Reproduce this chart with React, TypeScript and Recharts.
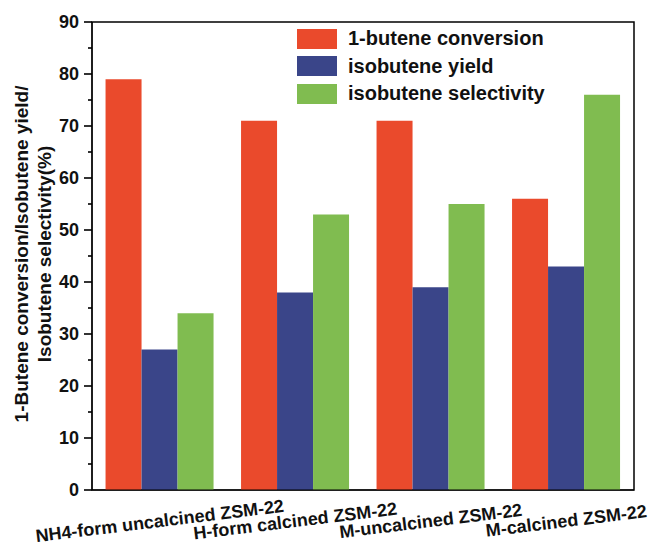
import React from 'react';
import { BarChart, Bar, XAxis, YAxis, ReferenceArea, ReferenceLine } from 'recharts';

const categories = [
  'NH4-form uncalcined ZSM-22',
  'H-form calcined ZSM-22',
  'M-uncalcined ZSM-22',
  'M-calcined ZSM-22',
];
const conversion = [79, 71, 71, 56];
const yieldValues = [27, 38, 39, 43];
const selectivity = [34, 53, 55, 76];
const yTicks = [0, 5, 10, 15, 20, 25, 30, 35, 40, 45, 50, 55, 60, 65, 70, 75, 80, 85, 90];

const seriesNames = ['1-butene conversion', 'isobutene yield', 'isobutene selectivity'];
const colors = ['#EA4A2C', '#3A4589', '#80BC50'];
const LINE = '#000';

const data = categories.map((c, i) => ({
  name: c,
  conv: conversion[i],
  yld: yieldValues[i],
  sel: selectivity[i],
}));

const FONT = '"Liberation Sans", Arial, sans-serif';
const X_TICK_SIZE = 6;
const X_TICK_MARGIN = 2;

const XTick = (props: any) => {
  const { x, y, payload } = props;
  const cy = y - X_TICK_SIZE - X_TICK_MARGIN + 31;
  return (
    <text
      x={x}
      y={cy}
      textAnchor="middle"
      dominantBaseline="central"
      transform={`rotate(-7, ${x}, ${cy})`}
      fontFamily={FONT}
      fontWeight="bold"
      fontSize={18}
      fill="#111"
    >
      {payload.value}
    </text>
  );
};

const YTitle = (props: any) => {
  const vb = props.viewBox || { x: 0, y: 22, width: 92, height: 468 };
  const cy = vb.y + vb.height / 2 - 2;
  const x1 = 21.5;
  const x2 = 44;
  return (
    <g fontFamily={FONT} fontWeight="bold" fontSize={19} fill="#111">
      <text x={x1} y={cy} textAnchor="middle" dominantBaseline="central" transform={`rotate(-90, ${x1}, ${cy})`}>
        1-Butene conversion/Isobutene yield/
      </text>
      <text x={x2} y={cy} textAnchor="middle" dominantBaseline="central" transform={`rotate(-90, ${x2}, ${cy})`}>
        Isobutene selectivity(%)
      </text>
    </g>
  );
};

const tickShape = (major: boolean) => (p: any) => {
  const x1 = Math.min(Number(p.x1), Number(p.x2));
  const y = Number(p.y1);
  if (!isFinite(x1) || !isFinite(y)) return <g />;
  const len = major ? 8 : 4;
  return <path d={`M${x1 - len},${y}H${x1}`} stroke={LINE} strokeWidth={1.6} fill="none" />;
};

export default function App() {
  return (
    <div style={{ position: 'absolute', left: 0, top: 0, width: 651, height: 552, background: '#fff' }}>
      <BarChart
        width={651}
        height={552}
        data={data}
        margin={{ top: 22, right: 17, bottom: 2, left: 0 }}
        barCategoryGap="10%"
        barGap={0}
      >
        <XAxis
          dataKey="name"
          height={60}
          stroke={LINE}
          tickLine={false}
          tickSize={X_TICK_SIZE}
          tickMargin={X_TICK_MARGIN}
          tick={<XTick />}
          interval={0}
        />
        <YAxis
          width={92}
          domain={[0, 90]}
          ticks={yTicks}
          interval={0}
          stroke={LINE}
          tickSize={8}
          tickMargin={5}
          tickLine={false}
          tickFormatter={(v: number) => (v % 10 === 0 ? String(v) : '')}
          tick={{ fontSize: 18, fontWeight: 'bold', fill: '#111', fontFamily: FONT }}
          label={<YTitle />}
        />
        <Bar dataKey="conv" name={seriesNames[0]} fill={colors[0]} isAnimationActive={false} />
        <Bar dataKey="yld" name={seriesNames[1]} fill={colors[1]} isAnimationActive={false} />
        <Bar dataKey="sel" name={seriesNames[2]} fill={colors[2]} isAnimationActive={false} />
        {yTicks.map((v) => (
          <ReferenceLine
            key={`t${v}`}
            y={v}
            ifOverflow="visible"
            stroke={LINE}
            shape={tickShape(v % 10 === 0)}
          />
        ))}
        <ReferenceArea y1={0} y2={90} fill="none" fillOpacity={0} stroke={LINE} strokeWidth={1.5} ifOverflow="visible" />
      </BarChart>
      <div style={{ position: 'absolute', left: 297, top: 25, fontFamily: FONT }}>
        {seriesNames.map((n, i) => (
          <div key={n} style={{ display: 'flex', alignItems: 'center', height: 27.5 }}>
            <div style={{ width: 40, height: 20, background: colors[i], marginRight: 11 }} />
            <span style={{ fontWeight: 'bold', fontSize: 20, color: '#111', whiteSpace: 'nowrap' }}>{n}</span>
          </div>
        ))}
      </div>
    </div>
  );
}
